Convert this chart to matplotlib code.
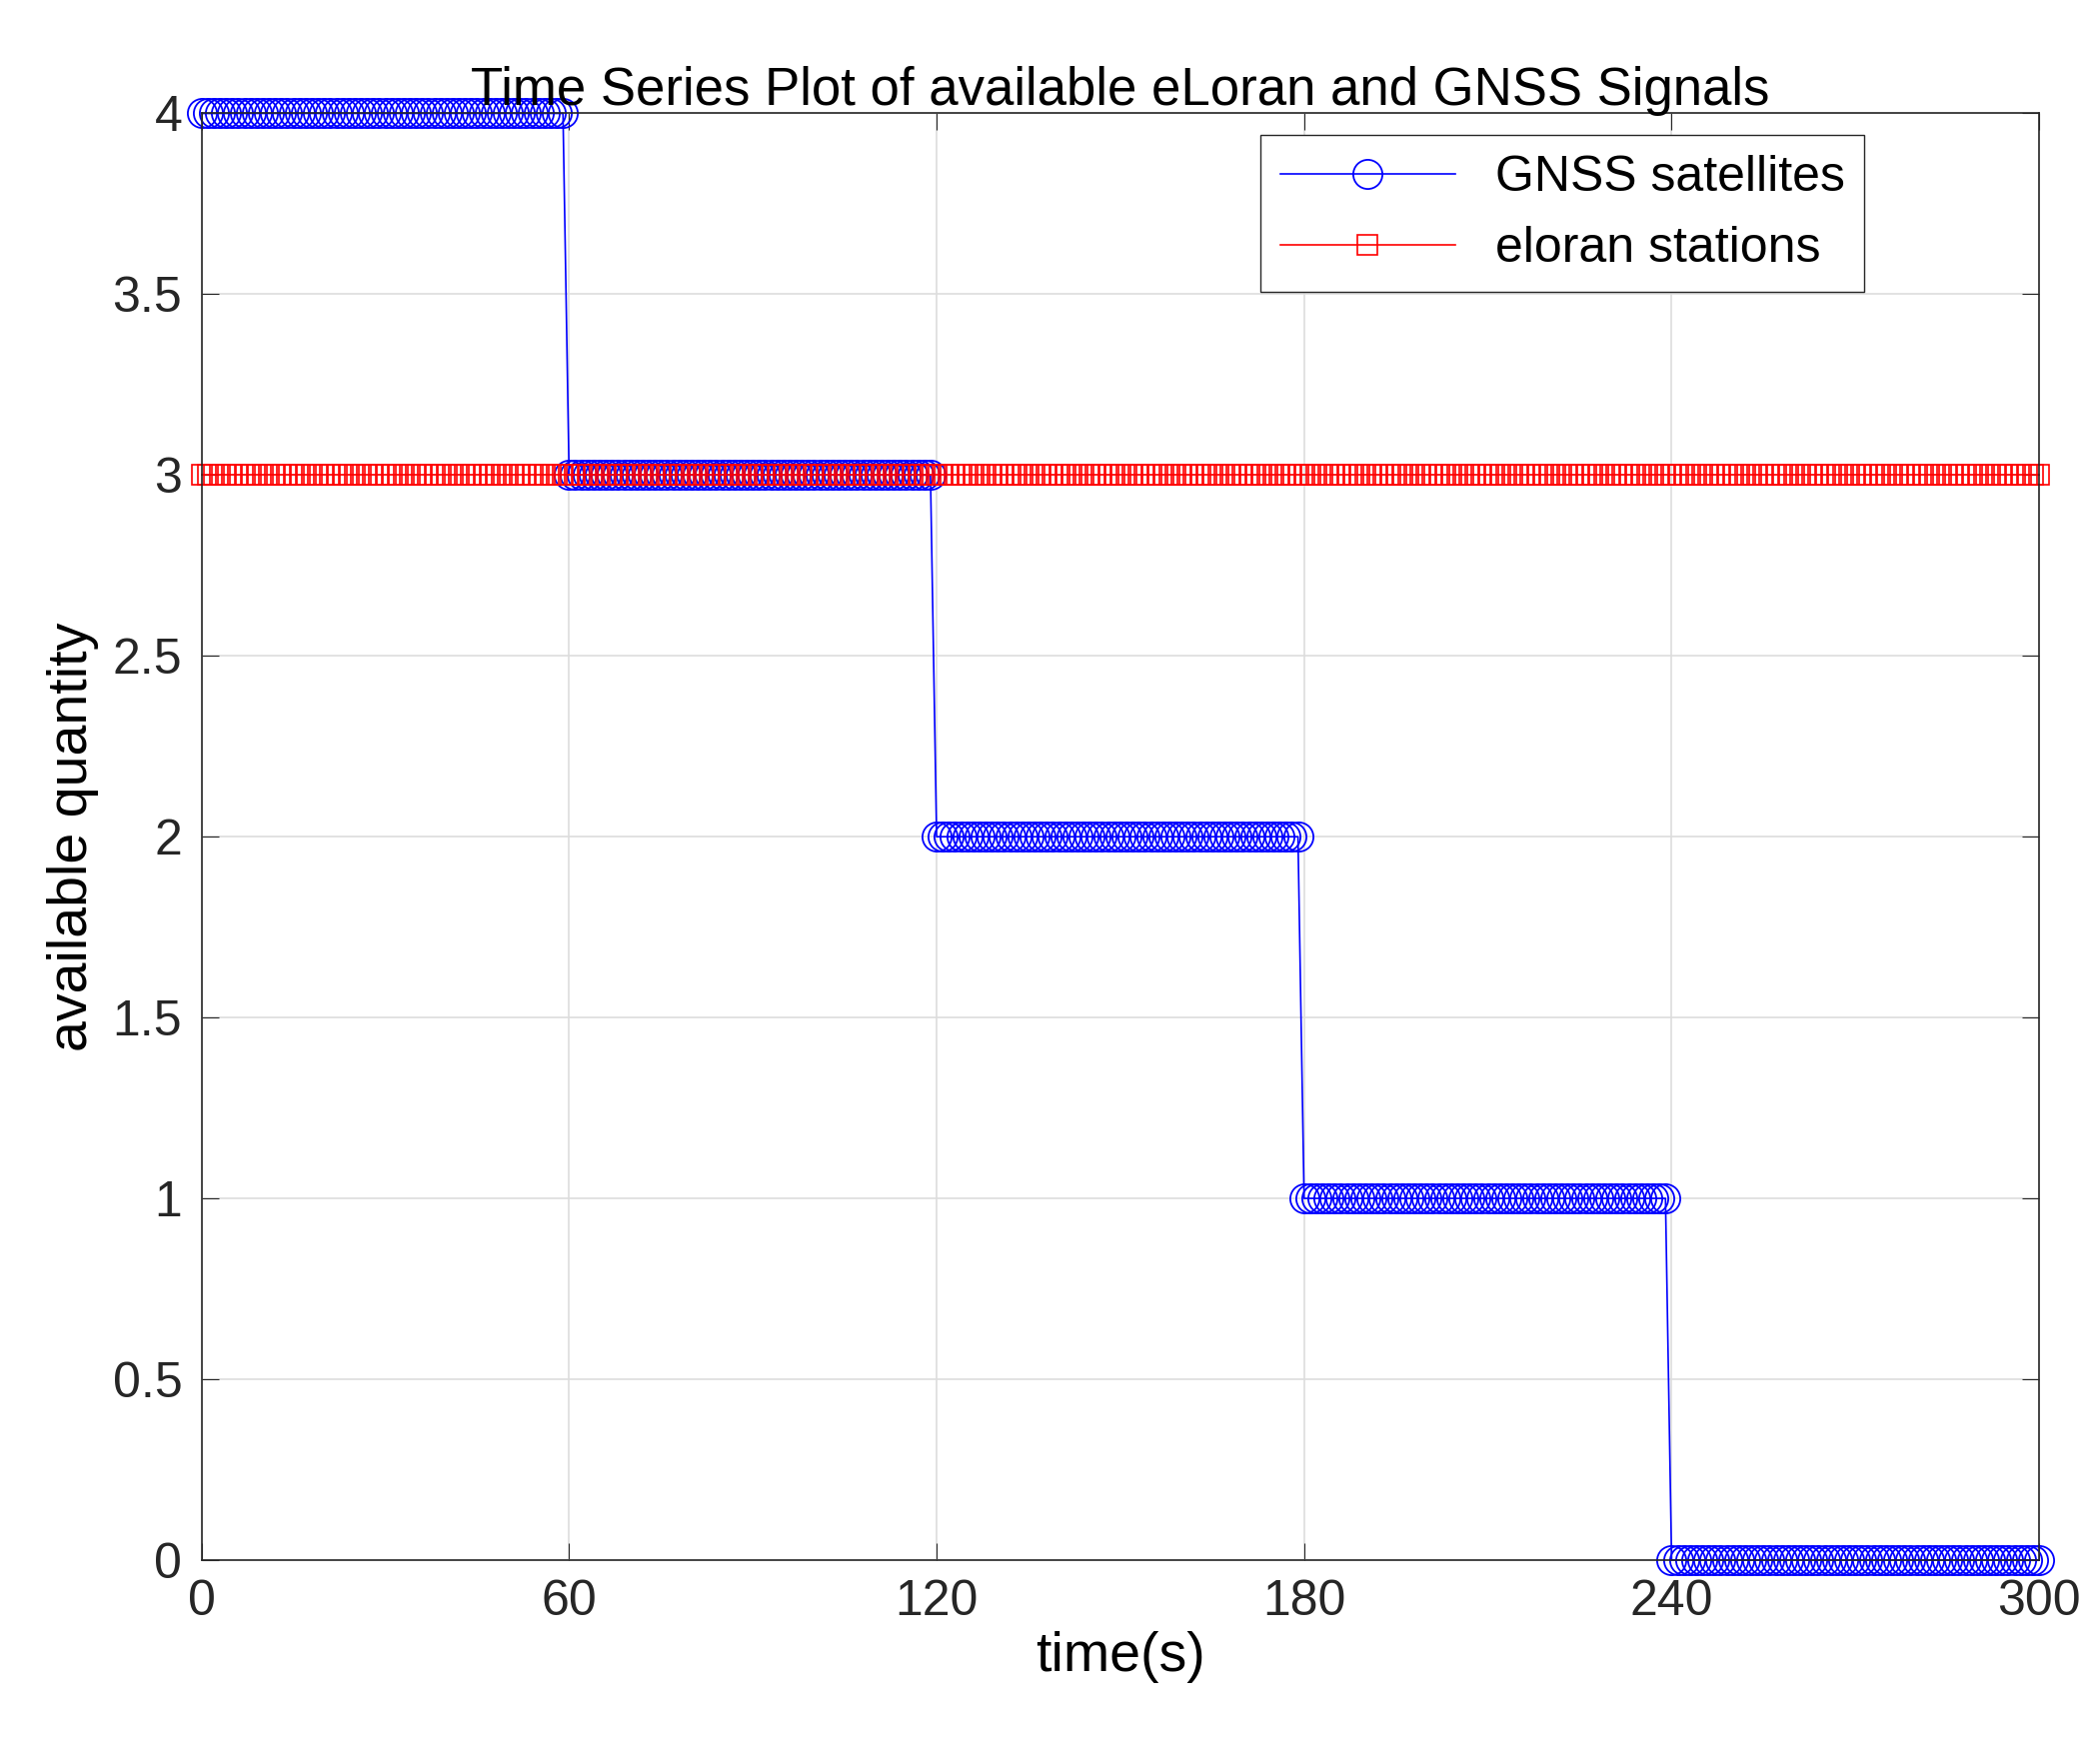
import numpy as np
import matplotlib.pyplot as plt

plt.rcParams['font.family'] = ['Liberation Sans', 'DejaVu Sans']

# one sample per second, 0..300 s
time_s = np.arange(0, 301)
gnss_counts = [4] * 60 + [3] * 60 + [2] * 60 + [1] * 60 + [0] * 61
eloran_counts = [3] * 301

fig = plt.figure(figsize=(21.01, 17.46), dpi=100)
ax = fig.add_axes([0.096, 0.106, 0.875, 0.829])

ax.plot(time_s, gnss_counts, color="blue", lw=1.2, marker="o", ms=21,
        mfc="none", mew=1.3, label="GNSS satellites", clip_on=False)
ax.plot(time_s, eloran_counts, color="red", lw=1.2, marker="s", ms=14,
        mfc="none", mew=1.2, label="eloran stations", clip_on=False)

ax.set_xlim(0, 300)
ax.set_ylim(0, 4)
ax.set_xticks([0, 60, 120, 180, 240, 300])
ax.set_yticks([0, 0.5, 1, 1.5, 2, 2.5, 3, 3.5, 4])
ax.set_yticklabels(["0", "0.5", "1", "1.5", "2", "2.5", "3", "3.5", "4"])
ax.grid(True, color="#dddddd", lw=1.2)
ax.tick_params(labelsize=36, direction="in", length=12, pad=14, top=True,
               right=True, colors="#262626")
for s in ax.spines.values():
    s.set_color("#262626")
    s.set_linewidth(1.2)

ax.set_title("Time Series Plot of available eLoran and GNSS Signals",
             fontsize=38, pad=6)
ax.set_xlabel("time(s)", fontsize=40, labelpad=4)
ax.set_ylabel("available quantity", fontsize=40, labelpad=10)
ax.legend(loc="upper right", fontsize=36, fancybox=False, edgecolor="#262626",
          framealpha=1, bbox_to_anchor=(0.905, 0.985), handlelength=3.5,
          borderaxespad=0)

fig.savefig("out.png")
